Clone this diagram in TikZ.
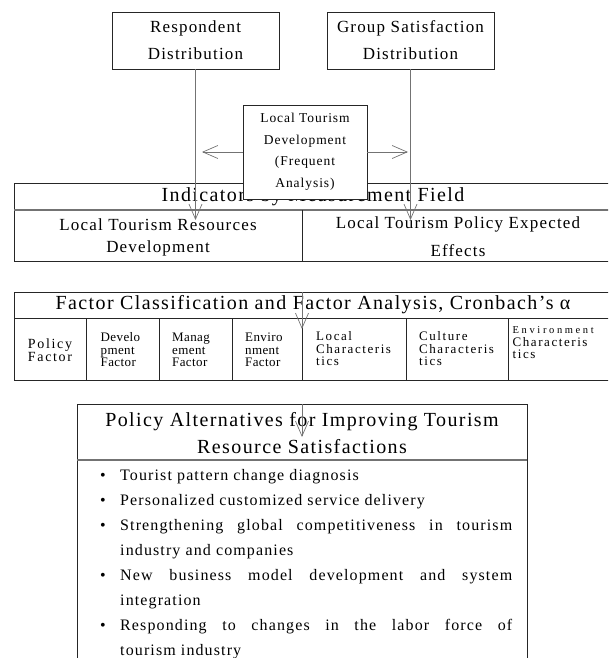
\documentclass[tikz,border=0pt]{standalone}
\usepackage{fontspec}
\setmainfont{Liberation Serif}[LetterSpace=7]
\usetikzlibrary{arrows.meta}
\definecolor{linegray}{gray}{0.45}
\definecolor{framegray}{gray}{0.15}
\tikzset{
  frame/.style={draw=framegray, line width=0.8pt},
  sepline/.style={draw=linegray, line width=1.2pt},
  conn/.style={draw=linegray, line width=0.7pt, -{Straight Barb[length=15pt,width=13pt]}},
  topbox/.style={frame, minimum width=167pt, minimum height=57pt, inner sep=0pt, align=center, font=\fontsize{17}{27}\selectfont},
  devbox/.style={frame, fill=white, minimum width=124pt, minimum height=94pt, inner sep=0pt, align=center, font=\fontsize{13.5}{21.5}\selectfont},
  headtext/.style={inner sep=0pt, align=center, font=\fontsize{20}{27}\selectfont},
  celltext/.style={inner sep=0pt, align=center, font=\fontsize{17}{22}\selectfont},
  factext/.style={inner sep=0pt, align=left, anchor=west, font=\fontsize{13}{12.5}\selectfont\addfontfeatures{LetterSpace=3}},
  facwide/.style={factext, font=\fontsize{13}{12.5}\selectfont\addfontfeatures{LetterSpace=12}}
}
\newcommand{\policyitem}[1]{\noindent\hangindent=20pt\hangafter=1\makebox[20pt][l]{\textbullet}#1\par}

\begin{document}
\begin{tikzpicture}[x=1pt,y=-1pt]
\useasboundingbox (0,0) rectangle (608,658);
\clip (0,0) rectangle (608,658);

% measurement field table
\draw[frame] (14,183) rectangle (620,261);
\draw[sepline] (14,210) -- (620,210);
\draw[frame] (302,210) -- (302,261);
\node[headtext] (indhead) at (313,197) {Indicators by Measurement Field};
\node[celltext] (indres) at (158,237) {Local Tourism Resources\\Development};
\node[celltext, font=\fontsize{17}{28}\selectfont] (indpol) at (458,237) {Local Tourism Policy Expected\\Effects};

% factor table
\draw[frame] (14,292) rectangle (620,380);
\draw[frame] (14,318) -- (620,318);
\foreach \x in {86,159,232,302,406,508}
  \draw[frame] (\x,318) -- (\x,380);
\node[headtext] (facthead) at (313,305) {Factor Classification and Factor Analysis, Cronbach’s α};
\node[factext, anchor=center, align=center, font=\fontsize{14}{13}\selectfont\addfontfeatures{LetterSpace=12}] (fpolicy) at (50,350) {Policy\\Factor};
\node[factext] (fdevelop) at (100.5,350) {Develo\\pment\\Factor};
\node[factext] (fmanage) at (172,350) {Manag\\ement\\Factor};
\node[factext] (fenviron) at (245,350) {Enviro\\nment\\Factor};
\node[facwide] (flocal) at (316,349) {Local\\Characteris\\tics};
\node[facwide] (fculture) at (419,349) {Culture\\Characteris\\tics};
\node[facwide] (fenvchar) at (512.5,343) {{\fontsize{10.5}{11}\selectfont\addfontfeatures{LetterSpace=25}Environment}\\Characteris\\tics};

% policy alternatives box
\draw[frame] (77,404) rectangle (527,680);
\draw[sepline] (77,460) -- (527,460);
\node[headtext] (polhead) at (302,433) {Policy Alternatives for Improving Tourism\\Resource Satisfactions};
\node[anchor=north west, inner sep=0pt, text width=412pt, align=justify, font=\fontsize{16}{25}\selectfont] (pollist) at (100,469) {%
  \policyitem{Tourist pattern change diagnosis}
  \policyitem{Personalized customized service delivery}
  \policyitem{Strengthening global competitiveness in tourism\linebreak industry and companies}
  \policyitem{New business model development and system\linebreak integration}
  \policyitem{Responding to changes in the labor force of\linebreak tourism industry}};

% source boxes
\node[topbox] (resp) at (195.5,40.5) {Respondent\\Distribution};
\node[topbox] (group) at (410.5,40.5) {Group Satisfaction\\Distribution};
\node[devbox] (dev) at (305,152) {Local Tourism\\Development\\(Frequent\\Analysis)};

% connectors
\coordinate (respend) at (195.5,220);
\coordinate (groupend) at (410.5,220);
\coordinate (devleft) at (202,152);
\coordinate (devright) at (408,152);
\coordinate (facttop) at (302,292);
\coordinate (factend) at (302,329);
\coordinate (poltop) at (302,404);
\coordinate (polend) at (302,437);
\draw[conn] (resp.south) -- (respend);
\draw[conn] (group.south) -- (groupend);
\draw[conn] (dev.west) -- (devleft);
\draw[conn] (dev.east) -- (devright);
\draw[conn] (facttop) -- (factend);
\draw[conn] (poltop) -- (polend);
\end{tikzpicture}
\end{document}
